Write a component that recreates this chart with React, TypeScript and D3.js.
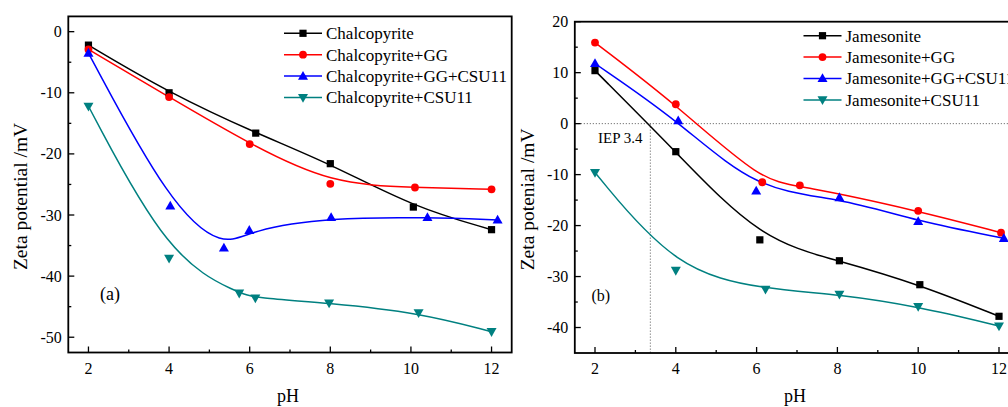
import React from "react";
import * as d3 from "d3";

// ---------- data ----------
const seriesNamesA = ["Chalcopyrite", "Chalcopyrite+GG", "Chalcopyrite+GG+CSU11", "Chalcopyrite+CSU11"];
const seriesNamesB = ["Jamesonite", "Jamesonite+GG", "Jamesonite+GG+CSU11", "Jamesonite+CSU11"];

const chalcoPH = [2, 4, 6.15, 8, 10.06, 12];
const chalcoZ = [-2.2, -10, -16.6, -21.6, -28.7, -32.4];
const chalcoGGPH = [2, 4, 6, 8, 10.1, 12];
const chalcoGGZ = [-2.9, -10.7, -18.4, -24.9, -25.5, -25.8];
const chalcoGGCSUPH = [2, 4.03, 5.36, 5.99, 8.02, 10.41, 12.15];
const chalcoGGCSUZ = [-3.5, -28.5, -35.4, -32.5, -30.4, -30.4, -30.8];
const chalcoCSUPH = [2, 4, 5.74, 6.14, 7.97, 10.19, 12];
const chalcoCSUZ = [-12.2, -37.1, -42.8, -43.6, -44.4, -46, -49.1];

const jamPH = [2, 4, 6.08, 8.05, 10.04, 12];
const jamZ = [10.4, -5.5, -22.8, -26.9, -31.6, -37.8];
const jamGGPH = [2, 4, 6.14, 7.07, 10, 12.05];
const jamGGZ = [15.9, 3.8, -11.5, -12.1, -17.1, -21.4];
const jamGGCSUPH = [2, 4.06, 5.99, 8.05, 10, 12.12];
const jamGGCSUZ = [11.8, 0.6, -13.2, -14.5, -19.2, -22.5];
const jamCSUPH = [2, 4, 6.22, 8.05, 10, 12];
const jamCSUZ = [-9.6, -28.8, -32.5, -33.5, -35.9, -39.7];

const xTicks = [2, 4, 6, 8, 10, 12];
const xMinorTicks = [3, 5, 7, 9, 11];
const yTicksA = [0, -10, -20, -30, -40, -50];
const yMinorA = [-5, -15, -25, -35, -45];
const yTicksB = [20, 10, 0, -10, -20, -30, -40];
const yMinorB = [15, 5, -5, -15, -25, -35];
const iepValue = 3.37;

// ---------- styling ----------
const colors = ["#000000", "#ff0000", "#0000ff", "#008080"];
const markers = ["square", "circle", "up", "down"];
const FONT = "'Liberation Serif', 'Times New Roman', serif";

type Panel = {
  left: number; right: number; top: number; bottom: number;
  xDomain: [number, number]; yDomain: [number, number];
  yTicks: number[]; yMinor: number[];
  names: string[];
  series: { x: number[]; y: number[] }[];
  legendX: number; legendY: number;
  yLabel: string; tag: string; tagX: number; tagY: number; tagSize: number;
  iep?: number;
};

function Marker({ type, x, y, color }: { type: string; x: number; y: number; color: string }) {
  if (type === "square") return <rect x={x - 3.6} y={y - 3.6} width={7.2} height={7.2} fill={color} />;
  if (type === "circle") return <circle cx={x} cy={y} r={3.9} fill={color} />;
  if (type === "up")
    return <path d={`M${x},${y - 5.2}L${x + 5},${y + 3.6}L${x - 5},${y + 3.6}Z`} fill={color} />;
  return <path d={`M${x},${y + 5.2}L${x + 5},${y - 3.6}L${x - 5},${y - 3.6}Z`} fill={color} />;
}

function PanelView({ p, id }: { p: Panel; id: string }) {
  const x = d3.scaleLinear().domain(p.xDomain).range([p.left, p.right]);
  const y = d3.scaleLinear().domain(p.yDomain).range([p.bottom, p.top]);
  const line = d3
    .line<[number, number]>()
    .x((d) => x(d[0]))
    .y((d) => y(d[1]))
    .curve(d3.curveBasis);

  return (
    <g>
      {/* dotted IEP lines */}
      {p.iep !== undefined && (
        <g stroke="#444" strokeWidth={0.9} strokeDasharray="1,2" fill="none">
          <line x1={p.left} x2={p.right} y1={y(0)} y2={y(0)} />
          <line x1={x(p.iep)} x2={x(p.iep)} y1={y(0)} y2={p.bottom} />
        </g>
      )}
      {p.iep !== undefined && (
        <text x={x(2) + 3} y={y(0) + 19} fontSize={15} fontFamily={FONT} fill="#000">
          IEP 3.4
        </text>
      )}
      {/* curves */}
      {p.series.map((s, i) => {
        const pts = s.x.map((v, k) => [v, s.y[k]] as [number, number]);
        return (
          <path key={"l" + i} d={line(pts) || ""} fill="none" stroke={colors[i]} strokeWidth={1.5} />
        );
      })}
      {p.series.map((s, i) =>
        s.x.map((v, k) => (
          <Marker key={"m" + i + "_" + k} type={markers[i]} x={x(v)} y={y(s.y[k])} color={colors[i]} />
        ))
      )}
      {/* legend */}
      {p.names.map((n, i) => {
        const ly = p.legendY + i * 21.4;
        return (
          <g key={"lg" + i}>
            <line x1={p.legendX} x2={p.legendX + 38} y1={ly} y2={ly} stroke={colors[i]} strokeWidth={1.5} />
            <Marker type={markers[i]} x={p.legendX + 19} y={ly} color={colors[i]} />
            <text x={p.legendX + 42} y={ly + 5.8} fontSize={17} fontFamily={FONT} fill="#000">
              {n}
            </text>
          </g>
        );
      })}
      {/* frame */}
      <rect
        x={p.left}
        y={p.top}
        width={p.right - p.left}
        height={p.bottom - p.top}
        fill="none"
        stroke="#000"
        strokeWidth={1.8}
      />
      {/* x ticks */}
      {xTicks.map((t) => (
        <g key={"xt" + t}>
          <line x1={x(t)} x2={x(t)} y1={p.bottom} y2={p.bottom - 6} stroke="#000" strokeWidth={1.3} />
          <text
            x={x(t)}
            y={p.bottom + 21}
            fontSize={16}
            fontFamily={FONT}
            textAnchor="middle"
            fill="#000"
          >
            {t}
          </text>
        </g>
      ))}
      {xMinorTicks.map((t) => (
        <line key={"xm" + t} x1={x(t)} x2={x(t)} y1={p.bottom} y2={p.bottom - 3} stroke="#000" strokeWidth={1.3} />
      ))}
      {/* y ticks */}
      {p.yTicks.map((t) => (
        <g key={"yt" + t}>
          <line x1={p.left} x2={p.left + 6} y1={y(t)} y2={y(t)} stroke="#000" strokeWidth={1.3} />
          <text
            x={p.left - 6.5}
            y={y(t) + 5.5}
            fontSize={16}
            fontFamily={FONT}
            textAnchor="end"
            fill="#000"
          >
            {t}
          </text>
        </g>
      ))}
      {p.yMinor.map((t) => (
        <line key={"ym" + t} x1={p.left} x2={p.left + 3} y1={y(t)} y2={y(t)} stroke="#000" strokeWidth={1.3} />
      ))}
      {/* axis titles */}
      <text
        x={(p.left + p.right) / 2 - 2}
        y={402}
        fontSize={18}
        fontFamily={FONT}
        textAnchor="middle"
        fill="#000"
      >
        pH
      </text>
      <text
        transform={`translate(${p.left - 41},${(p.top + p.bottom) / 2 + 12}) rotate(-90)`}
        fontSize={19.5}
        fontFamily={FONT}
        textAnchor="middle"
        fill="#000"
      >
        {p.yLabel}
      </text>
      <text x={p.tagX} y={p.tagY} fontSize={p.tagSize} fontFamily={FONT} fill="#000">
        {p.tag}
      </text>
    </g>
  );
}

export default function App() {
  const panelA: Panel = {
    left: 68.3,
    right: 511.7,
    top: 16.4,
    bottom: 352.5,
    xDomain: [1.5, 12.5],
    yDomain: [-52.5, 2.5],
    yTicks: yTicksA,
    yMinor: yMinorA,
    names: seriesNamesA,
    series: [
      { x: chalcoPH, y: chalcoZ },
      { x: chalcoGGPH, y: chalcoGGZ },
      { x: chalcoGGCSUPH, y: chalcoGGCSUZ },
      { x: chalcoCSUPH, y: chalcoCSUZ },
    ],
    legendX: 284,
    legendY: 33.3,
    yLabel: "Zeta potential /mV",
    tag: "(a)",
    tagX: 100,
    tagY: 300,
    tagSize: 18,
  };
  const panelB: Panel = {
    left: 574.8,
    right: 1019.2,
    top: 21.7,
    bottom: 353,
    xDomain: [1.5, 12.5],
    yDomain: [-45, 20],
    yTicks: yTicksB,
    yMinor: yMinorB,
    names: seriesNamesB,
    series: [
      { x: jamPH, y: jamZ },
      { x: jamGGPH, y: jamGGZ },
      { x: jamGGCSUPH, y: jamGGCSUZ },
      { x: jamCSUPH, y: jamCSUZ },
    ],
    legendX: 803.5,
    legendY: 35.7,
    yLabel: "Zeta potenial /mV",
    tag: "(b)",
    tagX: 591.5,
    tagY: 300.5,
    tagSize: 16,
    iep: iepValue,
  };
  return (
    <svg
      width={1008}
      height={407}
      style={{ position: "absolute", left: 0, top: 0, background: "#fff" }}
    >
      <rect x={0} y={0} width={1008} height={407} fill="#fff" />
      <PanelView p={panelA} id="a" />
      <PanelView p={panelB} id="b" />
    </svg>
  );
}
